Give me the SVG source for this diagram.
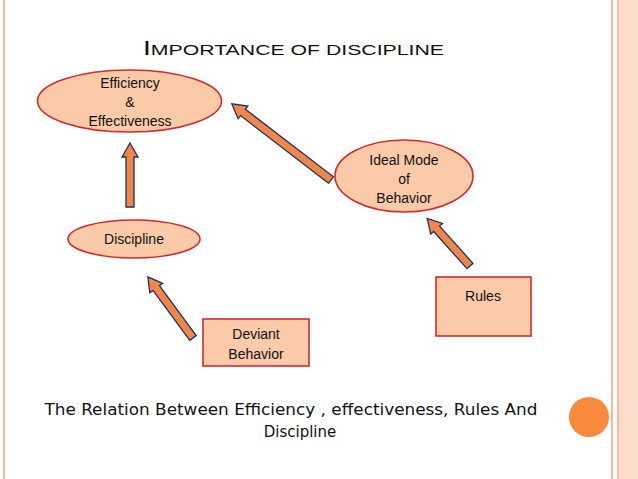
<svg xmlns="http://www.w3.org/2000/svg" width="638" height="479" viewBox="0 0 638 479">
<style>
.n{fill:#fbcaa9;stroke:#d42a2a;stroke-width:1.6}
.t{font-family:"Liberation Sans",Arial,sans-serif;font-size:14px;fill:#111;text-anchor:middle}
.a{fill:#f0874a;stroke:#1f3060;stroke-width:1.3}
</style>
<rect width="638" height="479" fill="#fff"/>
<rect x="619" y="0" width="19" height="479" fill="#fcdccb"/>
<line x1="4" y1="0" x2="4" y2="479" stroke="#f4b9a0" stroke-width="2"/>
<line x1="612" y1="0" x2="612" y2="479" stroke="#f4b9a0" stroke-width="2"/>
<line x1="618" y1="0" x2="618" y2="479" stroke="#f4a080" stroke-width="1.5"/>
<text x="143" y="55" font-family="Liberation Sans Narrow,Liberation Sans,sans-serif" font-size="15" fill="#111" textLength="301" lengthAdjust="spacingAndGlyphs"><tspan font-size="20">I</tspan>MPORTANCE OF DISCIPLINE</text>
<g id="connectors">
<polygon class="a" points="0,-4 50,-4 50,-8 64,0 50,8 50,4 0,4" transform="translate(130,207) rotate(-90)"/>
<polygon class="a" points="0,-4 111,-4 111,-8 125,0 111,8 111,4 0,4" transform="translate(331,180) rotate(217.5)"/>
<polygon class="a" points="0,-4 50,-4 50,-8 64,0 50,8 50,4 0,4" transform="translate(470,266) rotate(228.1)"/>
<polygon class="a" points="0,-4 62,-4 62,-8 76,0 62,8 62,4 0,4" transform="translate(193,338) rotate(233.6)"/>
</g>
<g id="efficiency"><ellipse class="n" cx="129.5" cy="101" rx="92" ry="31"/>
<text class="t" x="130" y="88">Efficiency</text><text class="t" x="130" y="107">&amp;</text><text class="t" x="130" y="126">Effectiveness</text></g>
<g id="ideal"><ellipse class="n" cx="404" cy="176" rx="69" ry="36"/>
<text class="t" x="404" y="165">Ideal Mode</text><text class="t" x="404" y="184">of</text><text class="t" x="404" y="203">Behavior</text></g>
<g id="discipline"><ellipse class="n" cx="134" cy="239" rx="66" ry="19"/>
<text class="t" x="134" y="244">Discipline</text></g>
<g id="rules"><rect class="n" x="436" y="277" width="95" height="59"/>
<text class="t" x="483" y="301">Rules</text></g>
<g id="deviant"><rect class="n" x="203" y="319" width="106" height="47"/>
<text class="t" x="256" y="339">Deviant</text><text class="t" x="256" y="359">Behavior</text></g>
<g font-family="DejaVu Sans,sans-serif" font-size="15" fill="#111" text-anchor="middle">
<text x="291" y="415" textLength="493" lengthAdjust="spacingAndGlyphs">The Relation Between Efficiency , effectiveness,  Rules And</text>
<text x="300" y="437">Discipline</text></g>
<circle cx="589" cy="417" r="20" fill="#f78a3c"/>
</svg>
